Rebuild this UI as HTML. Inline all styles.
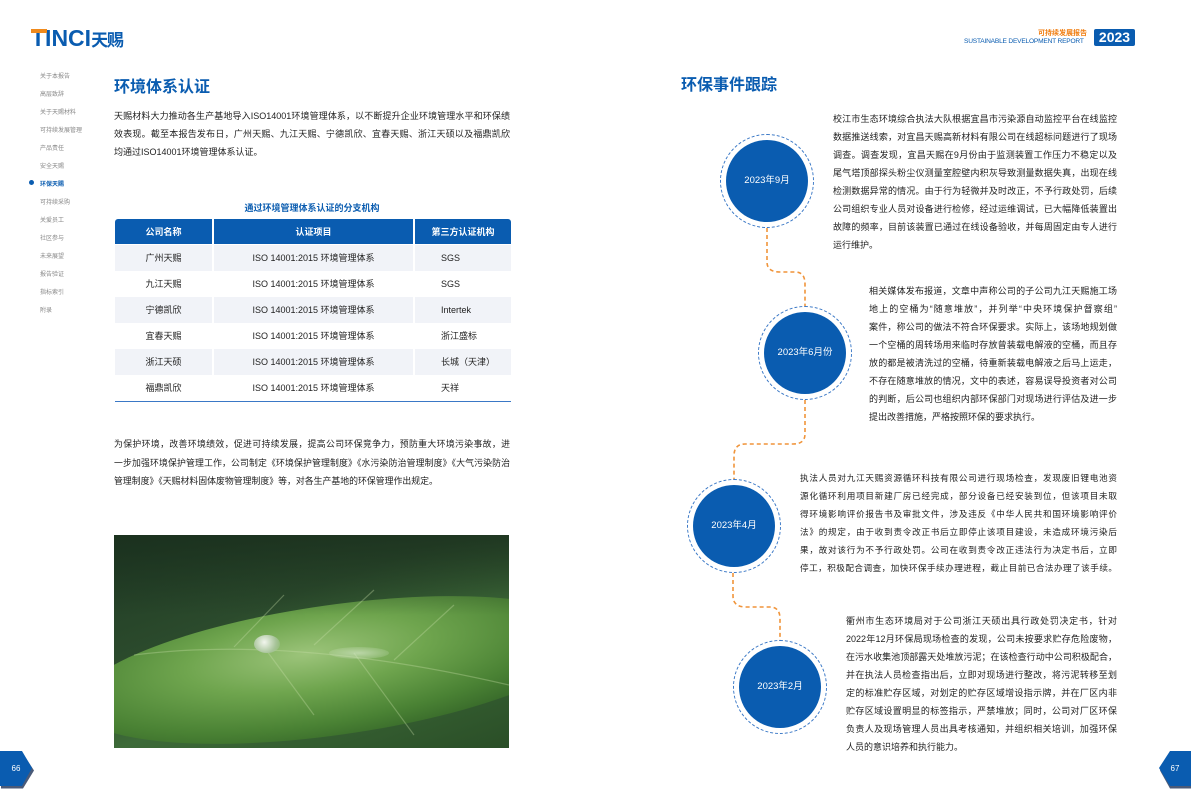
<!DOCTYPE html>
<html style="width:1191px;height:809px;overflow:hidden"><head><meta charset="utf-8">
<style>
*{margin:0;padding:0;box-sizing:border-box}
body{width:1191px;height:809px;position:relative;background:#fff;overflow:hidden;font-family:"Liberation Sans","Noto Sans CJK SC",sans-serif;color:#222}
.a{position:absolute;white-space:nowrap}
.j{position:absolute;white-space:nowrap;text-align:justify;text-align-last:justify;font-size:9px;color:#222}
.jl{text-align-last:left}
.nav{position:absolute;left:40px;font-size:6px;color:#888}
.tb{position:absolute;left:115px;width:396px;font-size:9px}
.row{position:absolute;left:0;width:396px;height:26px}
.row div{position:absolute;top:0;height:26px;line-height:26px}
.c1{left:0;width:97px;text-align:center}
.c2{left:99px;width:199px;text-align:center}
.c3{left:300px;width:96px;padding-left:26px}
.circ{position:absolute;width:82px;height:82px;border-radius:50%;background:#0a5cb0;color:#fff;font-size:9.5px;text-align:center;line-height:82px}
.ring{position:absolute;width:94px;height:94px;border-radius:50%;border:1.5px dashed #3a78c6}
</style></head><body>

<!-- logo -->
<div class="a" style="left:31px;top:25px;font-size:23px;font-weight:bold;color:#0a5cb0;line-height:26px">TINCI<span style="font-size:17px;letter-spacing:-1px">天赐</span></div>
<div class="a" style="left:31px;top:29px;width:16px;height:4px;background:#f08a1c"></div>

<!-- header right -->
<div class="a" style="left:1038px;top:28px;font-size:7px;color:#f07d10;font-weight:bold">可持续发展报告</div>
<div class="a" style="left:964px;top:38px;font-size:6.6px;color:#0a5cb0;letter-spacing:-0.2px">SUSTAINABLE DEVELOPMENT REPORT</div>
<div class="a" style="left:1094px;top:29px;width:41px;height:17px;background:#0a5cb0;border-radius:2px;color:#fff;font-size:14px;font-weight:bold;text-align:center;line-height:17px">2023</div>

<!-- nav -->
<div class="nav" style="top:71px">关于本报告</div>
<div class="nav" style="top:89px">高层致辞</div>
<div class="nav" style="top:107px">关于天赐材料</div>
<div class="nav" style="top:125px">可持续发展管理</div>
<div class="nav" style="top:143px">产品责任</div>
<div class="nav" style="top:161px">安全天赐</div>
<div class="nav" style="top:179px;color:#0a5cb0;font-weight:bold">环保天赐</div>
<div class="a" style="left:29px;top:180px;width:5px;height:5px;border-radius:50%;background:#0a5cb0"></div>
<div class="nav" style="top:197px">可持续采购</div>
<div class="nav" style="top:215px">关爱员工</div>
<div class="nav" style="top:233px">社区参与</div>
<div class="nav" style="top:251px">未来展望</div>
<div class="nav" style="top:269px">报告验证</div>
<div class="nav" style="top:287px">指标索引</div>
<div class="nav" style="top:305px">附录</div>

<!-- left title -->
<div class="a" style="left:114px;top:73px;font-size:16px;font-weight:bold;color:#0a5cb0">环境体系认证</div>
<div class="j" style="left:114px;top:109px;width:396px">天赐材料大力推动各生产基地导入ISO14001环境管理体系，以不断提升企业环境管理水平和环保绩</div>
<div class="j" style="left:114px;top:127px;width:396px">效表现。截至本报告发布日，广州天赐、九江天赐、宁德凯欣、宜春天赐、浙江天硕以及福鼎凯欣</div>
<div class="j jl" style="left:114px;top:145px;width:396px">均通过ISO14001环境管理体系认证。</div>

<div class="a" style="left:114px;top:201px;width:396px;text-align:center;font-size:9px;font-weight:bold;color:#0a5cb0">通过环境管理体系认证的分支机构</div>

<div class="tb" style="top:219px;height:185px">
 <div class="row" style="top:0;height:25px;color:#fff;font-weight:bold">
  <div class="c1" style="background:#0a5cb0;height:25px;border-radius:3px 0 0 0">公司名称</div>
  <div class="c2" style="background:#0a5cb0;height:25px">认证项目</div>
  <div class="c3" style="background:#0a5cb0;height:25px;padding-left:0;text-align:center;border-radius:0 3px 0 0">第三方认证机构</div>
 </div>
 <div class="row" style="top:26px"><div class="c1" style="background:#f1f3f8">广州天赐</div><div class="c2" style="background:#f1f3f8">ISO 14001:2015 环境管理体系</div><div class="c3" style="background:#f1f3f8">SGS</div></div>
 <div class="row" style="top:52px"><div class="c1">九江天赐</div><div class="c2">ISO 14001:2015 环境管理体系</div><div class="c3">SGS</div></div>
 <div class="row" style="top:78px"><div class="c1" style="background:#f1f3f8">宁德凯欣</div><div class="c2" style="background:#f1f3f8">ISO 14001:2015 环境管理体系</div><div class="c3" style="background:#f1f3f8">Intertek</div></div>
 <div class="row" style="top:104px"><div class="c1">宜春天赐</div><div class="c2">ISO 14001:2015 环境管理体系</div><div class="c3">浙江盛标</div></div>
 <div class="row" style="top:130px"><div class="c1" style="background:#f1f3f8">浙江天硕</div><div class="c2" style="background:#f1f3f8">ISO 14001:2015 环境管理体系</div><div class="c3" style="background:#f1f3f8">长城（天津）</div></div>
 <div class="row" style="top:156px"><div class="c1">福鼎凯欣</div><div class="c2">ISO 14001:2015 环境管理体系</div><div class="c3">天祥</div></div>
 <div class="a" style="left:0;top:182px;width:396px;height:1px;background:#3a78c6"></div>
</div>

<div class="j" style="left:114px;top:437px;width:396px;font-size:8.9px">为保护环境，改善环境绩效，促进可持续发展，提高公司环保竞争力，预防重大环境污染事故，进</div>
<div class="j" style="left:114px;top:456px;width:396px;font-size:8.9px">一步加强环境保护管理工作，公司制定《环境保护管理制度》《水污染防治管理制度》《大气污染防治</div>
<div class="j jl" style="left:114px;top:474px;width:396px;font-size:8.9px">管理制度》《天赐材料固体废物管理制度》等，对各生产基地的环保管理作出规定。</div>

<!-- image -->
<div class="a" style="left:114px;top:535px;width:395px;height:213px;overflow:hidden;background:linear-gradient(160deg,#1f3a24 0%,#2b4a2c 35%,#3d6a38 60%,#2a4e27 100%)">
 <div class="a" style="left:-40px;top:70px;width:520px;height:130px;border-radius:50%;transform:rotate(-8deg);background:radial-gradient(ellipse at 45% 35%,#9cc47a 0%,#6fa54e 30%,#4a8234 60%,#2f5e25 85%,rgba(40,80,30,0) 100%)"></div>
 <div class="a" style="left:0;top:0;width:395px;height:80px;background:linear-gradient(180deg,rgba(25,45,28,.7),rgba(25,45,28,0))"></div>
 <svg class="a" style="left:0;top:0" width="395" height="213"><g stroke="#c8e0a8" stroke-opacity=".35" stroke-width="1.2" fill="none">
  <path d="M20,120 Q180,100 395,150"/><path d="M120,112 L170,60"/><path d="M200,110 L260,55"/><path d="M280,125 L340,70"/><path d="M150,112 L200,180"/><path d="M240,118 L300,200"/>
 </g></svg>
 <div class="a" style="left:140px;top:100px;width:26px;height:18px;border-radius:50%;background:radial-gradient(circle at 40% 40%,#f2f6ee,#a8c49a 60%,rgba(120,160,100,0))"></div>
 <div class="a" style="left:215px;top:112px;width:60px;height:12px;border-radius:50%;background:radial-gradient(ellipse,rgba(220,235,210,.6),rgba(120,160,100,0))"></div>
</div>

<!-- right title -->
<div class="a" style="left:681px;top:71px;font-size:16px;font-weight:bold;color:#0a5cb0">环保事件跟踪</div>

<!-- connector -->
<svg class="a" style="left:0;top:0" width="1191" height="809">
 <g fill="none" stroke="#f0943a" stroke-width="1.6" stroke-dasharray="4,3">
  <path d="M767,228 L767,262 Q767,272 780,272 L795,272 Q805,272 805,284 L805,306"/>
  <path d="M805,400 L805,434 Q805,444 793,444 L745,444 Q734,444 734,456 L734,479"/>
  <path d="M733,573 L733,596 Q733,607 746,607 L770,607 Q780,607 780,619 L780,641"/>
 </g>
</svg>

<!-- circles -->
<div class="ring" style="left:720px;top:134px"></div><div class="circ" style="left:726px;top:140px">2023年9月</div>
<div class="ring" style="left:758px;top:306px"></div><div class="circ" style="left:764px;top:312px">2023年6月份</div>
<div class="ring" style="left:687px;top:479px"></div><div class="circ" style="left:693px;top:485px">2023年4月</div>
<div class="ring" style="left:733px;top:640px"></div><div class="circ" style="left:739px;top:646px">2023年2月</div>

<!-- block1 -->
<div class="j" style="left:833px;top:112px;width:284px">校江市生态环境综合执法大队根据宜昌市污染源自动监控平台在线监控</div>
<div class="j" style="left:833px;top:130px;width:284px">数据推送线索，对宜昌天赐高新材料有限公司在线超标问题进行了现场</div>
<div class="j" style="left:833px;top:148px;width:284px">调查。调查发现，宜昌天赐在9月份由于监测装置工作压力不稳定以及</div>
<div class="j" style="left:833px;top:166px;width:284px">尾气塔顶部探头粉尘仪测量室腔壁内积灰导致测量数据失真，出现在线</div>
<div class="j" style="left:833px;top:184px;width:284px">检测数据异常的情况。由于行为轻微并及时改正，不予行政处罚，后续</div>
<div class="j" style="left:833px;top:202px;width:284px">公司组织专业人员对设备进行检修，经过运维调试，已大幅降低装置出</div>
<div class="j" style="left:833px;top:220px;width:284px">故障的频率，目前该装置已通过在线设备验收，并每周固定由专人进行</div>
<div class="j jl" style="left:833px;top:238px;width:284px">运行维护。</div>

<!-- block2 -->
<div class="j" style="left:869px;top:284px;width:248px">相关媒体发布报道，文章中声称公司的子公司九江天赐施工场</div>
<div class="j" style="left:869px;top:302px;width:248px">地上的空桶为“随意堆放”，并列举“中央环境保护督察组”</div>
<div class="j" style="left:869px;top:320px;width:248px">案件，称公司的做法不符合环保要求。实际上，该场地规划做</div>
<div class="j" style="left:869px;top:338px;width:248px">一个空桶的周转场用来临时存放曾装载电解液的空桶，而且存</div>
<div class="j" style="left:869px;top:356px;width:248px">放的都是被清洗过的空桶，待重新装载电解液之后马上运走，</div>
<div class="j" style="left:869px;top:374px;width:248px">不存在随意堆放的情况，文中的表述，容易误导投资者对公司</div>
<div class="j" style="left:869px;top:392px;width:248px">的判断，后公司也组织内部环保部门对现场进行评估及进一步</div>
<div class="j jl" style="left:869px;top:410px;width:248px">提出改善措施，严格按照环保的要求执行。</div>

<!-- block3 -->
<div class="j" style="left:800px;top:472px;width:317px;font-size:8.6px">执法人员对九江天赐资源循环科技有限公司进行现场检查，发现废旧锂电池资</div>
<div class="j" style="left:800px;top:490px;width:317px;font-size:8.6px">源化循环利用项目新建厂房已经完成，部分设备已经安装到位，但该项目未取</div>
<div class="j" style="left:800px;top:508px;width:317px;font-size:8.6px">得环境影响评价报告书及审批文件，涉及违反《中华人民共和国环境影响评价</div>
<div class="j" style="left:800px;top:526px;width:317px;font-size:8.6px">法》的规定，由于收到责令改正书后立即停止该项目建设，未造成环境污染后</div>
<div class="j" style="left:800px;top:544px;width:317px;font-size:8.6px">果，故对该行为不予行政处罚。公司在收到责令改正违法行为决定书后，立即</div>
<div class="j" style="left:800px;top:562px;width:317px;font-size:8.6px">停工，积极配合调查，加快环保手续办理进程，截止目前已合法办理了该手续。</div>

<!-- block4 -->
<div class="j" style="left:846px;top:614px;width:271px">衢州市生态环境局对于公司浙江天硕出具行政处罚决定书，针对</div>
<div class="j" style="left:846px;top:632px;width:271px">2022年12月环保局现场检查的发现，公司未按要求贮存危险废物，</div>
<div class="j" style="left:846px;top:650px;width:271px">在污水收集池顶部露天处堆放污泥；在该检查行动中公司积极配合，</div>
<div class="j" style="left:846px;top:668px;width:271px">并在执法人员检查指出后，立即对现场进行整改，将污泥转移至划</div>
<div class="j" style="left:846px;top:686px;width:271px">定的标准贮存区域，对划定的贮存区域增设指示牌，并在厂区内非</div>
<div class="j" style="left:846px;top:704px;width:271px">贮存区域设置明显的标签指示，严禁堆放；同时，公司对厂区环保</div>
<div class="j" style="left:846px;top:722px;width:271px">负责人及现场管理人员出具考核通知，并组织相关培训，加强环保</div>
<div class="j jl" style="left:846px;top:740px;width:271px">人员的意识培养和执行能力。</div>

<!-- page tabs -->
<svg class="a" style="left:0;top:0" width="1191" height="809">
 <path d="M0,752 L22,752 L33,769 L22,787 L0,787 Z" fill="#4a5a78" transform="translate(1,1.5)"/>
 <path d="M0,751 L22,751 L32,768 L22,786 L0,786 Z" fill="#0a5cb0"/>
 <path d="M1191,752 L1170,752 L1160,769 L1170,787 L1191,787 Z" fill="#4a5a78" transform="translate(0,1.5)"/>
 <path d="M1191,751 L1170,751 L1159,768 L1170,786 L1191,786 Z" fill="#0a5cb0"/>
 <text x="16" y="771" fill="#fff" font-size="8" text-anchor="middle" font-family="Liberation Sans">66</text>
 <text x="1175" y="771" fill="#fff" font-size="8" text-anchor="middle" font-family="Liberation Sans">67</text>
</svg>
</body></html>
